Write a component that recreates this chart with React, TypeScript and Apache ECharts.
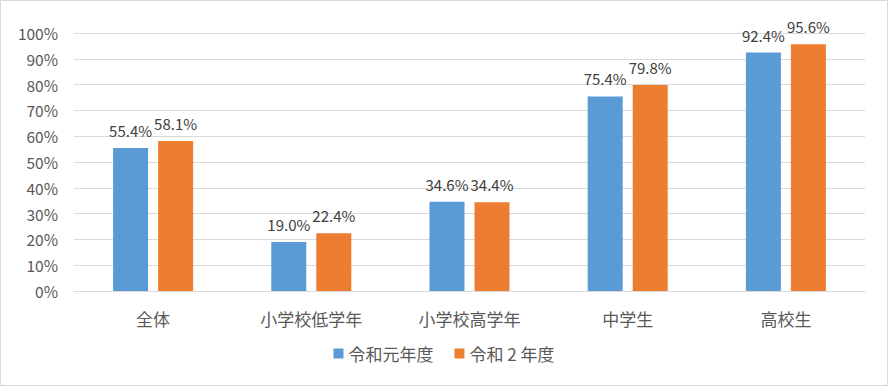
import React, { useEffect, useRef } from "react";
import * as echarts from "echarts";

const categories = ["全体", "小学校低学年", "小学校高学年", "中学生", "高校生"];
const seriesNames = ["令和元年度", "令和 2 年度"];
const r1Values = [55.4, 19.0, 34.6, 75.4, 92.4];
const r2Values = [58.1, 22.4, 34.4, 79.8, 95.6];
const colors = ["#5B9BD5", "#ED7D31"];

const FONT = "'Noto Sans CJK JP', 'Noto Sans', sans-serif";

export default function App() {
  const ref = useRef<HTMLDivElement>(null);
  useEffect(() => {
    if (!ref.current) return;
    const chart = echarts.init(ref.current, undefined, { renderer: "svg" });
    const label = {
      show: true,
      position: "top" as const,
      distance: 10,
      fontSize: 15,
      color: "#404040",
      fontFamily: FONT,
      formatter: (p: any) => p.value.toFixed(1) + "%",
    };
    chart.setOption({
      animation: false,
      backgroundColor: "#ffffff",
      graphic: [
        {
          type: "rect",
          shape: { x: 0.5, y: 0.5, width: 887, height: 385 },
          style: { fill: "none", stroke: "#d9d9d9", lineWidth: 1 },
        },
      ],
      grid: { left: 74, right: 23, top: 33, bottom: 95 },
      legend: {
        data: seriesNames,
        bottom: 19,
        left: "center",
        itemWidth: 10,
        itemHeight: 10,
        itemGap: 21,
        icon: "rect",
        textStyle: { fontSize: 17, color: "#595959", fontFamily: FONT },
      },
      xAxis: {
        type: "category",
        data: categories,
        axisLine: { show: true, lineStyle: { color: "#d9d9d9", width: 1 } },
        axisTick: { show: false },
        axisLabel: { fontSize: 17, color: "#595959", fontFamily: FONT, margin: 19 },
      },
      yAxis: {
        type: "value",
        min: 0,
        max: 100,
        interval: 10,
        axisLine: { show: false },
        axisTick: { show: false },
        splitLine: { lineStyle: { color: "#d9d9d9", width: 1 } },
        axisLabel: {
          fontSize: 15.5,
          color: "#595959",
          fontFamily: FONT,
          margin: 16,
          formatter: (v: number) => v + "%",
        },
      },
      series: [
        {
          name: seriesNames[0],
          type: "bar",
          data: r1Values,
          barWidth: 35,
          barGap: "28.6%",
          itemStyle: { color: colors[0] },
          label,
        },
        {
          name: seriesNames[1],
          type: "bar",
          data: r2Values,
          barWidth: 35,
          barGap: "28.6%",
          itemStyle: { color: colors[1] },
          label,
        },
      ],
    });
    return () => chart.dispose();
  }, []);
  return (
    <div
      ref={ref}
      style={{ position: "fixed", left: 0, top: 0, width: 888, height: 386 }}
    />
  );
}
